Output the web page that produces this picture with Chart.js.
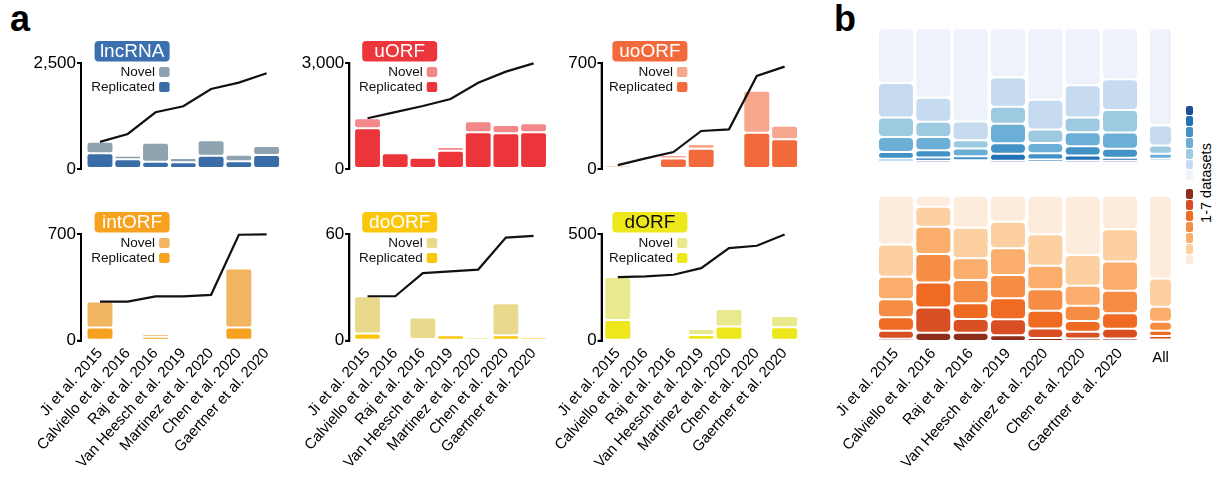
<!DOCTYPE html>
<html>
<head>
<meta charset="utf-8">
<script src="https://cdn.jsdelivr.net/npm/chart.js@4.4.1/dist/chart.umd.min.js"></script>
<style>
  html, body { margin: 0; padding: 0; background: #fff; }
  #fig { position: relative; width: 1217px; height: 477px; overflow: hidden;
         font-family: "Liberation Sans", Arial, sans-serif; color: #000; }
  #fig canvas { position: absolute; }
  .tag { position: absolute; font-weight: bold; font-size: 36px; line-height: 36px; }
  .swatch { position: absolute; left: 1186px; width: 7px; border-radius: 2px; }
  .scale-label { position: absolute; font-size: 14.5px; line-height: 16px; white-space: nowrap;
                 transform: translate(-50%, -50%) rotate(-90deg); }
</style>
</head>
<body>
<div id="fig">
  <div class="tag" style="left:10px; top:1px;">a</div>
  <div class="tag" style="left:834px; top:1px;">b</div>
  <div class="scale-label" style="left:1206px; top:183px;">1-7 datasets</div>
</div>
<script>
// ---------- study labels ----------
const studies = ['Ji et al. 2015', 'Calviello et al. 2016', 'Raj et al. 2016',
  'Van Heesch et al. 2019', 'Martinez et al. 2020', 'Chen et al. 2020', 'Gaertner et al. 2020'];
const allLabel = ['All'];
const legendLabels = ['Novel', 'Replicated'];

// ---------- panel a: ORFs per study (replicated + novel) and running total ----------
const lncRnaReplicated = [370, 229, 172, 158, 314, 181, 330];
const lncRnaNovel      = [270, 85, 448, 102, 363, 157, 213];
const lncRnaCumulative = [640, 826, 1338, 1480, 1888, 2037, 2258];
const lncRnaTicks      = [0, 2500];

const uOrfReplicated = [1152, 444, 320, 518, 1039, 1010, 1039];
const uOrfNovel      = [283, 46, 57, 105, 311, 235, 254];
const uOrfCumulative = [1435, 1610, 1783, 1981, 2442, 2755, 2990];
const uOrfTicks      = [0, 3000];

const uoOrfReplicated = [22, 0, 70, 134, 18, 240, 196];
const uoOrfNovel      = [4, 4, 22, 31, 0, 277, 90];
const uoOrfCumulative = [26, 70, 112, 251, 262, 615, 676];
const uoOrfTicks      = [0, 700];

const intOrfReplicated = [86, 0, 26, 0, 8, 86, 5];
const intOrfNovel      = [171, 3, 18, 3, 1, 388, 0];
const intOrfCumulative = [257, 257, 291, 291, 301, 695, 698];
const intOrfTicks      = [0, 700];

const doOrfReplicated = [4, 0, 1, 3, 0, 3, 2];
const doOrfNovel      = [21, 0, 12, 0, 2, 18, 1];
const doOrfCumulative = [25, 25, 38, 39, 40, 58, 59];
const doOrfTicks      = [0, 60];

const dOrfReplicated = [97, 0, 8, 27, 66, 14, 63];
const dOrfNovel      = [201, 2, 0, 28, 83, 8, 53];
const dOrfCumulative = [298, 301, 309, 340, 434, 445, 498];
const dOrfTicks      = [0, 500];

// ---------- panel b: % of ORFs found in 1..7 datasets (per study, then All) ----------
const blueIn1 = [40.7, 51.5, 69.1, 36.6, 53.1, 42.3, 37.8, 72.1];
const blueIn2 = [25.6, 17.8, 14.0, 21.7, 22.0, 24.0, 22.9, 14.9];
const blueIn3 = [14.4, 11.4, 6.2, 12.6, 10.1, 10.8, 16.7, 6.2];
const blueIn4 = [11.2, 9.8, 5.7, 14.4, 7.6, 10.5, 12.1, 3.7];
const blueIn5 = [5.0, 5.5, 3.0, 7.8, 4.6, 6.9, 6.6, 1.6];
const blueIn6 = [1.8, 2.3, 1.1, 5.3, 1.8, 3.9, 2.3, 0.9];
const blueIn7 = [1.3, 1.7, 0.9, 1.6, 0.8, 1.6, 1.6, 0.6];

const orangeIn1 = [33.5, 7.6, 22.0, 17.9, 26.6, 40.8, 23.1, 56.9];
const orangeIn2 = [22.2, 13.8, 21.1, 18.3, 21.6, 21.1, 22.2, 19.5];
const orangeIn3 = [15.6, 18.8, 14.9, 18.3, 16.1, 13.8, 20.2, 10.3];
const orangeIn4 = [12.4, 19.5, 16.1, 16.1, 14.9, 10.6, 15.4, 6.2];
const orangeIn5 = [9.2, 17.2, 10.8, 14.4, 12.2, 7.3, 10.6, 3.7];
const orangeIn6 = [5.5, 17.4, 9.4, 11.0, 6.6, 4.6, 6.7, 2.3];
const orangeIn7 = [1.6, 5.7, 5.7, 4.0, 2.0, 1.8, 1.8, 1.1];

// shades for 1..7 datasets
const bluePalette   = ['#eef3fb', '#c6dbef', '#9ecae1', '#6baed6', '#4292c6', '#2171b5', '#1b4e97'];
const orangePalette = ['#fdebdc', '#fcd0a0', '#fbad6b', '#f58e44', '#f06b22', '#d84f24', '#8e2e1a'];

// ---------- setup ----------
const FONT = '"Liberation Sans", Arial, sans-serif';
Chart.defaults.font.family = FONT;
Chart.defaults.color = '#000';
const fig = document.getElementById('fig');

function makeCanvas(left, top, width, height) {
  const c = document.createElement('canvas');
  c.width = width; c.height = height;
  c.style.left = left + 'px'; c.style.top = top + 'px';
  c.style.width = width + 'px'; c.style.height = height + 'px';
  fig.appendChild(c);
  return c;
}

function roundRectPath(ctx, x, y, w, h, r) {
  r = Math.min(r, w / 2, h / 2);
  ctx.beginPath();
  ctx.moveTo(x + r, y);
  ctx.lineTo(x + w - r, y);
  ctx.arcTo(x + w, y, x + w, y + r, r);
  ctx.lineTo(x + w, y + h - r);
  ctx.arcTo(x + w, y + h, x + w - r, y + h, r);
  ctx.lineTo(x + r, y + h);
  ctx.arcTo(x, y + h, x, y + h - r, r);
  ctx.lineTo(x, y + r);
  ctx.arcTo(x, y, x + r, y, r);
  ctx.closePath();
}

// ORF-type badge plus the Novel / Replicated key
function panelHeader(title, colors) {
  return {
    id: 'panelHeader',
    afterDraw(chart) {
      const ctx = chart.ctx, ca = chart.chartArea;
      const cx = chart.scales.x.getPixelForValue(-0.5) + 46, w = 75, h = 20.5;
      const bottom = ca.top - 1.5, top = bottom - h;
      ctx.save();
      ctx.fillStyle = colors.badge;
      roundRectPath(ctx, cx - w / 2, top, w, h, 4);
      ctx.fill();
      ctx.fillStyle = colors.badgeText;
      ctx.font = '19px ' + FONT;
      ctx.textAlign = 'center';
      ctx.textBaseline = 'middle';
      ctx.fillText(title, cx, top + h / 2 + 1);

      const sqR = cx + w / 2, sqW = 10.5, sqH = 10;
      const rows = [[legendLabels[0], colors.novel, bottom + 10.5],
                    [legendLabels[1], colors.replicated, bottom + 25.5]];
      ctx.font = '13.5px ' + FONT;
      ctx.textAlign = 'right';
      rows.forEach(([label, color, yc]) => {
        ctx.fillStyle = color;
        roundRectPath(ctx, sqR - sqW, yc - sqH / 2, sqW, sqH, 2);
        ctx.fill();
        ctx.fillStyle = '#111';
        ctx.fillText(label, sqR - sqW - 4, yc + 0.5);
      });
      ctx.restore();
    }
  };
}

function corner(r) { return { topLeft: r, topRight: r, bottomLeft: r, bottomRight: r }; }
const asPoints = values => values.map((v, i) => ({ x: i, y: v }));

// one small ORF panel; x runs over study index so the axis can sit just left of the first bar
function orfPanel(p) {
  const c = makeCanvas(p.canvasLeft, p.canvasTop, p.canvasWidth, p.canvasHeight);
  const step = (p.areaRight - p.barLeft) / studies.length;
  const xMin = -0.5 - (p.barLeft - p.axisX) / step;
  const stub = 4 / step;                       // 4 px tick stubs, in study-index units
  const yLo = p.ticks[0], yHi = p.ticks[p.ticks.length - 1];
  const rotation = p.showLabels ? 48 : 0;
  const barStyle = {
    categoryPercentage: 1, barPercentage: 0.97,
    borderWidth: 1, borderColor: '#fff',
    borderRadius: corner(3), borderSkipped: false, order: 1
  };
  new Chart(c, {
    type: 'bar',
    data: {
      datasets: [
        { type: 'line', data: asPoints(p.cumulative), borderColor: '#111', borderWidth: 2.2,
          pointRadius: 0, tension: 0, fill: false, clip: false, order: 0 },
        // bracket-style value axis: runs from the lowest to the highest tick at the scale's left edge
        { type: 'line', stack: 'axis', order: 0, clip: false, fill: false, tension: 0,
          pointRadius: 0, borderColor: '#000', borderWidth: 2,
          borderJoinStyle: 'miter', borderCapStyle: 'butt',
          data: [{ x: xMin - stub, y: yHi }, { x: xMin, y: yHi }, { x: xMin, y: yLo }, { x: xMin - stub, y: yLo }] },
        Object.assign({ label: legendLabels[1], data: asPoints(p.replicated), backgroundColor: p.colors.replicated }, barStyle),
        Object.assign({ label: legendLabels[0], data: asPoints(p.novel), backgroundColor: p.colors.novel }, barStyle)
      ]
    },
    options: {
      responsive: false, animation: false, devicePixelRatio: 1,
      layout: { padding: { left: 0, top: p.areaTop - p.canvasTop,
                           right: p.canvasLeft + p.canvasWidth - p.areaRight, bottom: 0 } },
      plugins: { legend: { display: false }, tooltip: { enabled: false } },
      scales: {
        x: {
          type: 'linear', stacked: true, offset: false,
          min: xMin, max: studies.length - 0.5,
          grid: { display: false, drawTicks: false }, border: { display: false },
          afterBuildTicks(s) { s.ticks = studies.map((_, i) => ({ value: i })); },
          ticks: { display: p.showLabels, autoSkip: false, minRotation: rotation, maxRotation: rotation,
                   padding: 4, font: { size: 15 }, color: '#000',
                   callback: (v, i) => studies[i] },
          afterFit(s) { s.height = p.canvasTop + p.canvasHeight - p.areaBottom; s.paddingLeft = 0; s.paddingRight = 0; }
        },
        y: {
          stacked: true, min: yLo, max: yHi,
          border: { display: true, color: '#000', width: 2 },
          grid: { display: true, drawOnChartArea: false, drawTicks: true, tickLength: 4,
                  color: '#000', lineWidth: 2 },
          afterBuildTicks(s) { s.ticks = p.ticks.map(v => ({ value: v })); },
          ticks: { padding: 1, font: { size: 17 }, color: '#000',
                   callback: v => Number(v).toLocaleString('en-US') },
          afterFit(s) { s.width = p.axisX - p.canvasLeft; s.paddingTop = 0; s.paddingBottom = 0; }
        }
      }
    },
    plugins: [panelHeader(p.title, p.colors)]
  });
}

const columns = [
  { canvasLeft: 0,   canvasWidth: 290, axisX: 81,    barLeft: 86.1,  areaRight: 280.5 },
  { canvasLeft: 270, canvasWidth: 285, axisX: 349.3, barLeft: 353.7, areaRight: 547.4 },
  { canvasLeft: 520, canvasWidth: 285, axisX: 601.7, barLeft: 603.9, areaRight: 798.5 }
];
const topRow    = { canvasTop: 0,   canvasHeight: 175, areaTop: 63,  areaBottom: 169,   showLabels: false };
const bottomRow = { canvasTop: 190, canvasHeight: 287, areaTop: 234, areaBottom: 340.7, showLabels: true };

const panels = [
  { row: topRow, col: 0, title: 'lncRNA', replicated: lncRnaReplicated, novel: lncRnaNovel, cumulative: lncRnaCumulative, ticks: lncRnaTicks,
    colors: { badge: '#3b6fae', badgeText: '#fff', replicated: '#3a6da8', novel: '#8ea3b0' } },
  { row: topRow, col: 1, title: 'uORF', replicated: uOrfReplicated, novel: uOrfNovel, cumulative: uOrfCumulative, ticks: uOrfTicks,
    colors: { badge: '#ec363c', badgeText: '#fff', replicated: '#ec353b', novel: '#f2888a' } },
  { row: topRow, col: 2, title: 'uoORF', replicated: uoOrfReplicated, novel: uoOrfNovel, cumulative: uoOrfCumulative, ticks: uoOrfTicks,
    colors: { badge: '#f26a3b', badgeText: '#fff', replicated: '#f26a3b', novel: '#f6a68c' } },
  { row: bottomRow, col: 0, title: 'intORF', replicated: intOrfReplicated, novel: intOrfNovel, cumulative: intOrfCumulative, ticks: intOrfTicks,
    colors: { badge: '#f6a21e', badgeText: '#fff', replicated: '#f6a21e', novel: '#f1b562' } },
  { row: bottomRow, col: 1, title: 'doORF', replicated: doOrfReplicated, novel: doOrfNovel, cumulative: doOrfCumulative, ticks: doOrfTicks,
    colors: { badge: '#fbc70c', badgeText: '#fff', replicated: '#fbc70c', novel: '#e8d98c' } },
  { row: bottomRow, col: 2, title: 'dORF', replicated: dOrfReplicated, novel: dOrfNovel, cumulative: dOrfCumulative, ticks: dOrfTicks,
    colors: { badge: '#eee71b', badgeText: '#111', replicated: '#eee71b', novel: '#e9e98e' } }
];
panels.forEach(p => orfPanel(Object.assign({}, p.row, columns[p.col], p)));

// ---------- panel b ----------
function shareChart(s) {
  const c = makeCanvas(s.canvasLeft, s.canvasTop, s.canvasWidth, s.canvasHeight);
  const levels = s.levels; // index 0 = found in 1 dataset
  const datasets = [];
  for (let k = levels.length - 1; k >= 0; k--) {
    datasets.push({
      label: String(k + 1), data: levels[k].slice(s.from, s.to),
      backgroundColor: s.palette[k],
      categoryPercentage: 1, barPercentage: s.barPct,
      borderWidth: 1, borderColor: '#fff', borderRadius: corner(5), borderSkipped: false
    });
  }
  new Chart(c, {
    type: 'bar',
    data: { labels: s.labels, datasets },
    options: {
      responsive: false, animation: false, devicePixelRatio: 1,
      layout: { padding: { left: s.areaLeft - s.canvasLeft, top: s.areaTop - s.canvasTop,
                           right: s.canvasLeft + s.canvasWidth - s.areaRight,
                           bottom: s.showLabels ? 0 : s.canvasTop + s.canvasHeight - s.areaBottom } },
      plugins: { legend: { display: false }, tooltip: { enabled: false } },
      scales: {
        x: {
          stacked: true, display: s.showLabels,
          grid: { display: false, drawTicks: false }, border: { display: false },
          ticks: { autoSkip: false, minRotation: s.rotation, maxRotation: s.rotation,
                   padding: s.rotation ? 4 : 8, font: { size: 15 }, color: '#000' },
          afterFit(sc) { sc.height = s.canvasTop + s.canvasHeight - s.areaBottom; sc.paddingLeft = 0; sc.paddingRight = 0; }
        },
        y: { stacked: true, min: 0, max: 100, display: false }
      }
    }
  });
}

const blueLevels   = [blueIn1, blueIn2, blueIn3, blueIn4, blueIn5, blueIn6, blueIn7];
const orangeLevels = [orangeIn1, orangeIn2, orangeIn3, orangeIn4, orangeIn5, orangeIn6, orangeIn7];
const studyCols = { labels: studies, from: 0, to: 7, canvasLeft: 800, canvasWidth: 350,
                    areaLeft: 877.3, areaRight: 1138.7, barPct: 0.964, rotation: 48 };
const allCol    = { labels: allLabel, from: 7, to: 8, canvasLeft: 1140, canvasWidth: 40,
                    areaLeft: 1148.5, areaRight: 1172.5, barPct: 0.958, rotation: 0 };
const blueRow   = { levels: blueLevels, palette: bluePalette, canvasTop: 0, canvasHeight: 185,
                    areaTop: 28.3, areaBottom: 174, showLabels: false };
const orangeRow = { levels: orangeLevels, palette: orangePalette, canvasTop: 185, canvasHeight: 292,
                    areaTop: 195.7, areaBottom: 341, showLabels: true };
[blueRow, orangeRow].forEach(r => {
  shareChart(Object.assign({}, studyCols, r));
  shareChart(Object.assign({}, allCol, r));
});

// colour keys for 1-7 datasets (darkest on top)
function colourKey(palette, top, bottom) {
  const step = (bottom - top) / palette.length;
  for (let i = 0; i < palette.length; i++) {
    const d = document.createElement('div');
    d.className = 'swatch';
    d.style.top = (top + i * step + 0.5) + 'px';
    d.style.height = (step - 1) + 'px';
    d.style.background = palette[palette.length - 1 - i];
    fig.appendChild(d);
  }
}
colourKey(bluePalette, 105, 180.7);
colourKey(orangePalette, 188.3, 265);
</script>
</body>
</html>
